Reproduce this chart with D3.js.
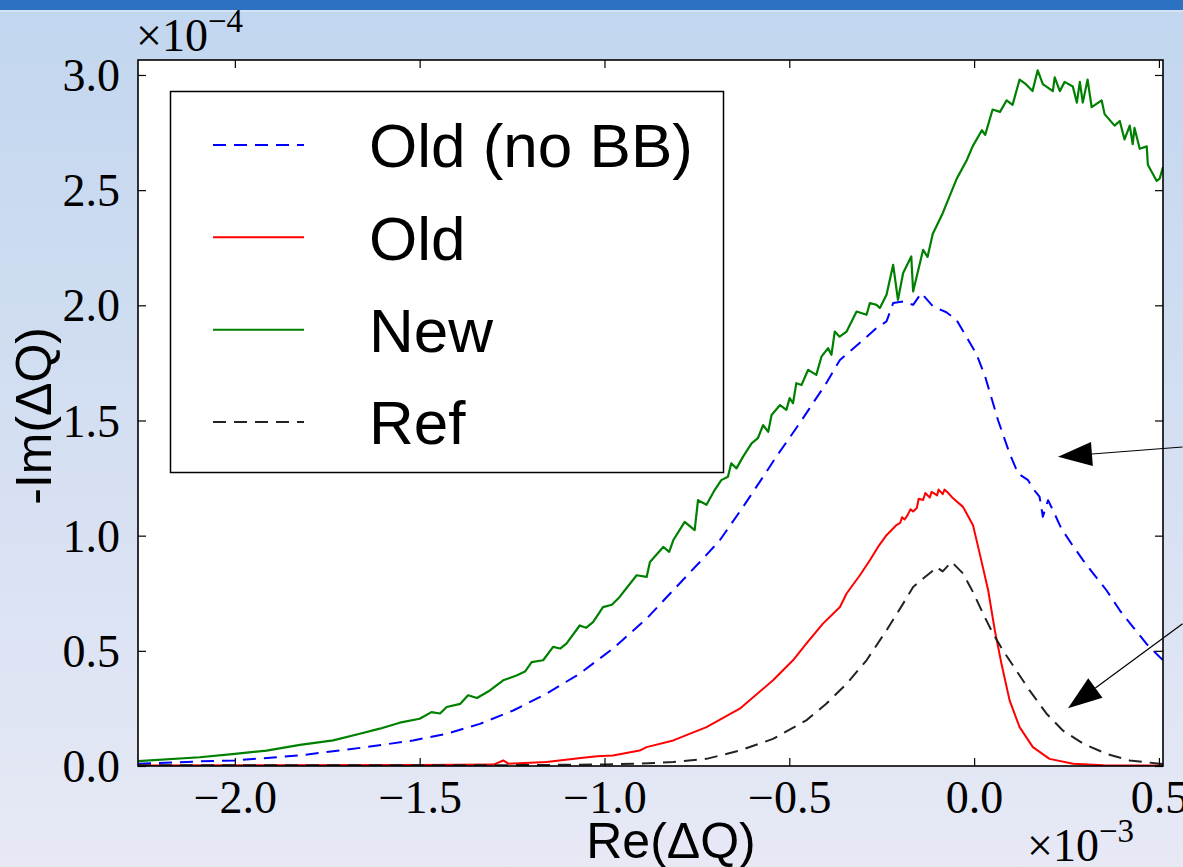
<!DOCTYPE html>
<html>
<head>
<meta charset="utf-8">
<script src="https://cdn.jsdelivr.net/npm/d3@7"></script>
<style>
  html, body { margin: 0; padding: 0; overflow: hidden; }
  svg { display: block; }
</style>
</head>
<body>
<div id="chart"></div>
<script>
// values in units of 1e-3 (x) and 1e-4 (y)
const xTicks = [-2.0, -1.5, -1.0, -0.5, 0.0, 0.5];
const yTicks = [0.0, 0.5, 1.0, 1.5, 2.0, 2.5, 3.0];

const newX = [-2.262, -2.095, -2.0, -1.914, -1.824, -1.734, -1.662, -1.608, -1.554, -1.5, -1.468, -1.445, -1.427, -1.39, -1.369, -1.345, -1.31, -1.274, -1.238, -1.215, -1.197, -1.166, -1.139, -1.12, -1.103, -1.067, -1.05, -1.031, -1.004, -0.98, -0.959, -0.913, -0.886, -0.877, -0.841, -0.825, -0.814, -0.783, -0.756, -0.747, -0.724, -0.702, -0.684, -0.666, -0.657, -0.643, -0.625, -0.602, -0.585, -0.571, -0.557, -0.548, -0.525, -0.508, -0.499, -0.49, -0.481, -0.467, -0.449, -0.427, -0.413, -0.395, -0.386, -0.377, -0.364, -0.345, -0.318, -0.291, -0.282, -0.264, -0.255, -0.237, -0.219, -0.206, -0.192, -0.17, -0.165, -0.138, -0.126, -0.112, -0.085, -0.047, -0.02, -0.004, 0.021, 0.03, 0.05, 0.07, 0.088, 0.104, 0.123, 0.14, 0.158, 0.172, 0.186, 0.213, 0.218, 0.232, 0.245, 0.267, 0.278, 0.286, 0.294, 0.307, 0.318, 0.345, 0.353, 0.38, 0.394, 0.407, 0.421, 0.429, 0.434, 0.448, 0.467, 0.47, 0.494, 0.502, 0.511];
const newY = [0.021, 0.038, 0.053, 0.067, 0.092, 0.111, 0.14, 0.162, 0.188, 0.205, 0.234, 0.228, 0.256, 0.27, 0.307, 0.295, 0.328, 0.372, 0.393, 0.41, 0.451, 0.459, 0.517, 0.51, 0.531, 0.61, 0.6, 0.625, 0.69, 0.7, 0.734, 0.828, 0.821, 0.886, 0.951, 0.93, 0.98, 1.06, 1.024, 1.154, 1.134, 1.198, 1.241, 1.256, 1.314, 1.292, 1.343, 1.401, 1.423, 1.48, 1.451, 1.524, 1.567, 1.546, 1.597, 1.575, 1.662, 1.654, 1.72, 1.698, 1.777, 1.814, 1.785, 1.886, 1.864, 1.886, 1.973, 1.959, 2.01, 2.002, 1.988, 2.046, 2.176, 2.024, 2.14, 2.212, 2.06, 2.241, 2.21, 2.31, 2.4, 2.55, 2.63, 2.69, 2.76, 2.74, 2.85, 2.84, 2.89, 2.87, 2.98, 2.96, 2.93, 3.02, 2.96, 2.93, 2.99, 2.93, 2.97, 2.95, 2.88, 2.97, 2.88, 2.98, 2.86, 2.89, 2.83, 2.78, 2.8, 2.72, 2.78, 2.7, 2.77, 2.68, 2.69, 2.61, 2.54, 2.55, 2.6];

const noBBX = [-2.262, -2.095, -2.0, -1.824, -1.644, -1.518, -1.427, -1.337, -1.247, -1.157, -1.067, -0.977, -0.886, -0.814, -0.733, -0.688, -0.625, -0.562, -0.535, -0.472, -0.4, -0.363, -0.3, -0.264, -0.237, -0.219, -0.192, -0.165, -0.143, -0.111, -0.075, -0.048, -0.021, 0.006, 0.03, 0.065, 0.096, 0.119, 0.146, 0.159, 0.177, 0.186, 0.2, 0.213, 0.236, 0.263, 0.295, 0.322, 0.358, 0.394, 0.43, 0.466, 0.502, 0.511];
const noBBY = [0.01, 0.02, 0.024, 0.046, 0.082, 0.111, 0.14, 0.183, 0.241, 0.314, 0.401, 0.51, 0.64, 0.763, 0.901, 0.98, 1.125, 1.277, 1.343, 1.488, 1.662, 1.763, 1.85, 1.901, 1.93, 2.01, 2.017, 2.002, 2.053, 1.995, 1.97, 1.937, 1.864, 1.79, 1.69, 1.5, 1.357, 1.27, 1.241, 1.205, 1.169, 1.082, 1.154, 1.111, 1.031, 0.966, 0.893, 0.836, 0.763, 0.676, 0.603, 0.531, 0.473, 0.46];

const oldX = [-2.262, -1.5, -1.3, -1.274, -1.26, -1.157, -1.058, -1.02, -0.977, -0.905, -0.886, -0.814, -0.724, -0.634, -0.544, -0.49, -0.454, -0.409, -0.363, -0.345, -0.309, -0.282, -0.26, -0.237, -0.21, -0.2, -0.195, -0.188, -0.18, -0.172, -0.165, -0.155, -0.15, -0.138, -0.132, -0.12, -0.115, -0.1, -0.096, -0.085, -0.08, -0.07, -0.057, -0.03, -0.003, 0.015, 0.038, 0.056, 0.074, 0.096, 0.123, 0.159, 0.204, 0.268, 0.35, 0.511];
const oldY = [0.002, 0.004, 0.006, 0.024, 0.01, 0.017, 0.036, 0.042, 0.046, 0.067, 0.082, 0.111, 0.169, 0.249, 0.372, 0.459, 0.531, 0.618, 0.69, 0.749, 0.828, 0.893, 0.951, 1.002, 1.046, 1.055, 1.08, 1.07, 1.089, 1.115, 1.105, 1.12, 1.16, 1.155, 1.185, 1.165, 1.19, 1.175, 1.2, 1.18, 1.2, 1.185, 1.162, 1.125, 1.045, 0.923, 0.763, 0.589, 0.444, 0.285, 0.169, 0.082, 0.031, 0.01, 0.003, 0.002];

const refX = [-2.262, -1.5, -1.2, -1.0, -0.905, -0.814, -0.724, -0.634, -0.544, -0.454, -0.4, -0.345, -0.291, -0.237, -0.192, -0.165, -0.138, -0.11, -0.102, -0.085, -0.061, -0.03, -0.003, 0.024, 0.051, 0.078, 0.114, 0.15, 0.196, 0.24, 0.295, 0.358, 0.421, 0.502, 0.511];
const refY = [0.003, 0.003, 0.004, 0.007, 0.01, 0.017, 0.031, 0.067, 0.118, 0.198, 0.27, 0.357, 0.459, 0.589, 0.705, 0.777, 0.814, 0.85, 0.864, 0.845, 0.886, 0.836, 0.755, 0.662, 0.575, 0.502, 0.415, 0.328, 0.227, 0.154, 0.097, 0.053, 0.024, 0.01, 0.008];

const seriesNames = ["Old (no BB)", "Old", "New", "Ref"];
const seriesColors = ["#0000ff", "#ff0000", "#008000", "#222222"];
const seriesDash = ["13,8", null, null, "13,8"];

// annotation arrows, tail -> tip, in data units
const arrowTails = [[0.564, 1.385], [0.564, 0.618]];
const arrowTips = [[0.227, 1.343], [0.254, 0.251]];

const W = 1183, H = 867;
const m = { left: 138, right: 20, top: 60, bottom: 101 };

const svg = d3.select("#chart").append("svg")
    .attr("width", W)
    .attr("height", H);

// slide background
const defs = svg.append("defs");
const grad = defs.append("linearGradient").attr("id", "bg").attr("x1", 0).attr("y1", 0).attr("x2", 0).attr("y2", 1);
grad.append("stop").attr("offset", "0%").attr("stop-color", "#c1d6ef");
grad.append("stop").attr("offset", "55%").attr("stop-color", "#d6e0f2");
grad.append("stop").attr("offset", "100%").attr("stop-color", "#e7e9f5");
svg.append("rect").attr("width", W).attr("height", H).attr("fill", "url(#bg)");
svg.append("rect").attr("width", W).attr("height", 10).attr("fill", "#2d72c2");
svg.append("rect").attr("y", 10).attr("width", W).attr("height", 2).attr("fill", "#d4e3f5");

defs.append("clipPath").attr("id", "plotClip").append("rect")
    .attr("x", m.left).attr("y", m.top)
    .attr("width", W - m.left - m.right).attr("height", H - m.top - m.bottom);

const x = d3.scaleLinear().domain([-2.262, 0.511]).range([m.left, W - m.right]);
const y = d3.scaleLinear().domain([0, 3.065]).range([H - m.bottom, m.top]);

svg.append("rect")
    .attr("x", m.left).attr("y", m.top)
    .attr("width", W - m.left - m.right).attr("height", H - m.top - m.bottom)
    .attr("fill", "#fff");

// series lines
const seriesData = [
    d3.zip(noBBX, noBBY),
    d3.zip(oldX, oldY),
    d3.zip(newX, newY),
    d3.zip(refX, refY)
];
const line = d3.line().x(d => x(d[0])).y(d => y(d[1]));
const plot = svg.append("g").attr("clip-path", "url(#plotClip)");
seriesData.forEach((pts, i) => {
    plot.append("path")
        .datum(pts)
        .attr("d", line)
        .attr("fill", "none")
        .attr("stroke", seriesColors[i])
        .attr("stroke-width", i === 2 ? 2.2 : 2)
        .attr("stroke-dasharray", seriesDash[i])
        .attr("stroke-linejoin", "round");
});

// axes: ticks inside, all four sides
const tickFont = "'Liberation Serif', 'DejaVu Serif', serif";
const fmt = v => d3.format(".1f")(v).replace("-", "\u2212");

const xAxis = svg.append("g").attr("transform", `translate(0,${H - m.bottom})`)
    .call(d3.axisBottom(x).tickValues(xTicks).tickSize(-8).tickPadding(20).tickFormat(fmt));
const xAxisTop = svg.append("g").attr("transform", `translate(0,${m.top})`)
    .call(d3.axisTop(x).tickValues(xTicks).tickSize(-8).tickFormat(""));
const yAxis = svg.append("g").attr("transform", `translate(${m.left},0)`)
    .call(d3.axisLeft(y).tickValues(yTicks).tickSize(-8).tickPadding(18).tickFormat(fmt));
const yAxisR = svg.append("g").attr("transform", `translate(${W - m.right},0)`)
    .call(d3.axisRight(y).tickValues(yTicks).tickSize(-8).tickFormat(""));

[xAxis, xAxisTop, yAxis, yAxisR].forEach(g => {
    g.select(".domain").remove();
    g.selectAll(".tick line").attr("stroke", "#000").attr("stroke-width", 1.2);
    g.selectAll("text")
        .style("font-family", tickFont)
        .style("font-size", "46px")
        .attr("fill", "#000");
});
xAxis.selectAll("text").attr("dy", "0.71em").attr("y", 14);
yAxis.selectAll("text").attr("dy", "0.34em");

svg.append("rect")
    .attr("x", m.left).attr("y", m.top)
    .attr("width", W - m.left - m.right).attr("height", H - m.top - m.bottom)
    .attr("fill", "none").attr("stroke", "#000").attr("stroke-width", 1.6);

// offset texts
const off1 = svg.append("text").attr("x", 136).attr("y", 51)
    .style("font-family", tickFont).style("font-size", "46px");
off1.append("tspan").text("\u00d710");
off1.append("tspan").attr("dy", -19).style("font-size", "33px").text("\u22124");

const off2 = svg.append("text").attr("x", 1027).attr("y", 861)
    .style("font-family", tickFont).style("font-size", "46px");
off2.append("tspan").text("\u00d710");
off2.append("tspan").attr("dy", -19).style("font-size", "33px").text("\u22123");

// axis labels
const sans = "'Liberation Sans', Arial, sans-serif";
svg.append("text")
    .attr("x", x(-0.82)).attr("y", 858)
    .attr("text-anchor", "middle")
    .style("font-family", sans).style("font-size", "50px")
    .text("Re(\u0394Q)");
svg.append("text")
    .attr("transform", `translate(51,${y(1.52)}) rotate(-90)`)
    .attr("text-anchor", "middle")
    .style("font-family", sans).style("font-size", "50px")
    .text("-Im(\u0394Q)");

// legend
const legend = svg.append("g");
legend.append("rect")
    .attr("x", 170.5).attr("y", 91.5).attr("width", 553).attr("height", 381)
    .attr("fill", "#fff").attr("stroke", "#000").attr("stroke-width", 1.5);
const rowY = d3.scalePoint().domain(seriesNames).range([145, 422]);
seriesNames.forEach((name, i) => {
    legend.append("line")
        .attr("x1", 213).attr("x2", 304)
        .attr("y1", rowY(name)).attr("y2", rowY(name))
        .attr("stroke", seriesColors[i])
        .attr("stroke-width", 2)
        .attr("stroke-dasharray", seriesDash[i]);
    legend.append("text")
        .attr("x", 369).attr("y", rowY(name)).attr("dy", "0.36em")
        .style("font-family", sans).style("font-size", "62px")
        .text(name);
});

// arrows
arrowTips.forEach((tip, i) => {
    const tail = arrowTails[i];
    const x0 = x(tail[0]), y0 = y(tail[1]);
    const x1 = x(tip[0]), y1 = y(tip[1]);
    const ang = Math.atan2(y1 - y0, x1 - x0);
    const len = 34, half = 12;
    const bx = x1 - len * Math.cos(ang), by = y1 - len * Math.sin(ang);
    svg.append("line")
        .attr("x1", x0).attr("y1", y0).attr("x2", bx).attr("y2", by)
        .attr("stroke", "#000").attr("stroke-width", 1.2);
    svg.append("path")
        .attr("d", `M${x1},${y1}L${bx - half * Math.sin(ang)},${by + half * Math.cos(ang)}L${bx + half * Math.sin(ang)},${by - half * Math.cos(ang)}Z`)
        .attr("fill", "#000");
});
</script>
</body>
</html>
